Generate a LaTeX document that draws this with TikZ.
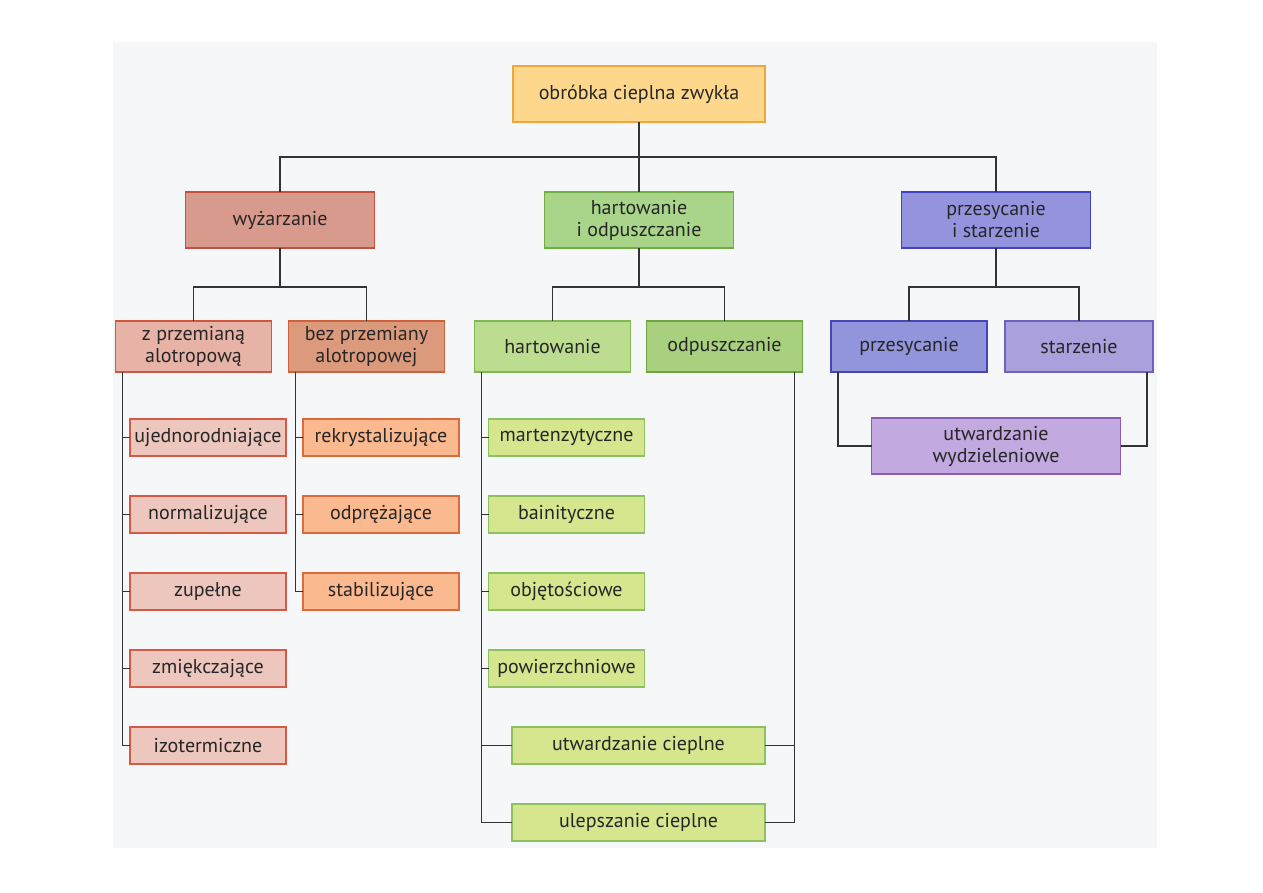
\documentclass[tikz,border=0pt]{standalone}
\usepackage{fontspec}
\setmainfont{PT Sans}
\usetikzlibrary{positioning}

\definecolor{strona}{HTML}{F5F7F9}
\definecolor{korzenT}{HTML}{FDD88C}\definecolor{korzenR}{HTML}{F2A53A}
\definecolor{wyzT}{HTML}{D99A8E}\definecolor{wyzR}{HTML}{C4503F}
\definecolor{zT}{HTML}{E8B3A7}\definecolor{zR}{HTML}{D0563F}
\definecolor{bezT}{HTML}{DC9A7C}\definecolor{bezR}{HTML}{D0603A}
\definecolor{lzT}{HTML}{EDC6BE}\definecolor{lzR}{HTML}{D45A45}
\definecolor{lbT}{HTML}{FBB98F}\definecolor{lbR}{HTML}{DE6A3C}
\definecolor{hoT}{HTML}{A8D58A}\definecolor{hoR}{HTML}{6FAE45}
\definecolor{hT}{HTML}{BCDD90}\definecolor{hR}{HTML}{7FB850}
\definecolor{oT}{HTML}{A9D07F}\definecolor{oR}{HTML}{6CA63E}
\definecolor{lhT}{HTML}{D5E68E}\definecolor{lhR}{HTML}{8CC060}
\definecolor{psT}{HTML}{9494DE}\definecolor{psR}{HTML}{3F43C4}
\definecolor{pT}{HTML}{9294DC}\definecolor{pR}{HTML}{4646B8}
\definecolor{sT}{HTML}{A9A0DC}\definecolor{sR}{HTML}{6A62C2}
\definecolor{uwT}{HTML}{C2A9E0}\definecolor{uwR}{HTML}{8A5CB8}

\begin{document}
\begin{tikzpicture}[
  x=1pt, y=-1pt,
  node distance=40pt and 16pt,
  blok/.style={draw, line width=1.8pt, align=center, inner sep=0pt, outer sep=0pt,
               font=\fontsize{20}{22}\selectfont, text=black!85},
  glowny/.style={blok, minimum width=252pt, minimum height=56pt},
  grupa/.style={blok, minimum width=189pt, minimum height=56pt},
  rodzaj/.style={blok, minimum width=156pt, minimum height=51pt},
  lisc/.style={blok, minimum width=156pt, minimum height=37pt},
  liscW/.style={blok, minimum width=253pt, minimum height=37pt},
  linia/.style={line width=1.9pt, draw=black!80}
]
\useasboundingbox (0,0) rectangle (1263,893);
\fill[strona] (113,42) rectangle (1157,848);

% poziom 0 i 1
\node[glowny, fill=korzenT, draw=korzenR] (obrobka) at (639,94) {obróbka cieplna zwykła};
\node[grupa, fill=hoT, draw=hoR, below=70pt of obrobka] (hartodp) {hartowanie\\i odpuszczanie};
\node[grupa, fill=wyzT, draw=wyzR, left=170pt of hartodp] (wyzarz) {wyżarzanie};
\node[grupa, fill=psT, draw=psR, right=168pt of hartodp] (przstar) {przesycanie\\i starzenie};

% poziom 2
\node[rodzaj, fill=zT, draw=zR, below=73pt of wyzarz, xshift=-86.5pt] (zprzem) {z przemianą\\alotropową};
\node[rodzaj, fill=bezT, draw=bezR, right=17pt of zprzem] (bezprzem) {bez przemiany\\alotropowej};
\node[rodzaj, fill=hT, draw=hR, below=73pt of hartodp, xshift=-86.5pt] (hart) {hartowanie};
\node[rodzaj, fill=oT, draw=oR, right=16pt of hart] (odpusz) {odpuszczanie};
\node[rodzaj, fill=pT, draw=pR, below=73pt of przstar, xshift=-87pt] (przesyc) {przesycanie};
\node[rodzaj, fill=sT, draw=sR, minimum width=148pt, right=18pt of przesyc] (starz) {starzenie};
\node[grupa, fill=uwT, draw=uwR, minimum width=249pt, below=170pt of przstar] (utwwydz) {utwardzanie\\wydzieleniowe};

% wyzarzanie
\node[lisc, fill=lzT, draw=lzR, below=47pt of zprzem, xshift=14.5pt] (ujedn) {ujednorodniające};
\node[lisc, fill=lzT, draw=lzR, below=of ujedn] (normal) {normalizujące};
\node[lisc, fill=lzT, draw=lzR, below=of normal] (zupel) {zupełne};
\node[lisc, fill=lzT, draw=lzR, below=of zupel] (zmiek) {zmiękczające};
\node[lisc, fill=lzT, draw=lzR, below=of zmiek] (izoterm) {izotermiczne};
\node[lisc, fill=lbT, draw=lbR, below=47pt of bezprzem, xshift=14.5pt] (rekryst) {rekrystalizujące};
\node[lisc, fill=lbT, draw=lbR, below=of rekryst] (odprez) {odprężające};
\node[lisc, fill=lbT, draw=lbR, below=of odprez] (stabil) {stabilizujące};

% hartowanie
\node[lisc, fill=lhT, draw=lhR, below=47pt of hart, xshift=14pt] (marten) {martenzytyczne};
\node[lisc, fill=lhT, draw=lhR, below=of marten] (bainit) {bainityczne};
\node[lisc, fill=lhT, draw=lhR, below=of bainit] (objet) {objętościowe};
\node[lisc, fill=lhT, draw=lhR, below=of objet] (powierz) {powierzchniowe};
\node[liscW, fill=lhT, draw=lhR, below=of powierz, xshift=72pt] (utwciep) {utwardzanie cieplne};
\node[liscW, fill=lhT, draw=lhR, below=of utwciep] (ulepsz) {ulepszanie cieplne};

% polaczenia
\draw[linia] (obrobka) -- (hartodp);
\draw[linia] (wyzarz.north) -- ++(0,-35) -| (przstar.north);
\draw[linia] (wyzarz.south) -- ++(0,39) coordinate (wyzRoz);
\draw[linia] (zprzem.north) |- (wyzRoz) -| (bezprzem.north);
\draw[linia] (hartodp.south) -- ++(0,39) coordinate (hoRoz);
\draw[linia] (hart.north) |- (hoRoz) -| (odpusz.north);
\draw[linia] (przstar.south) -- ++(0,39) coordinate (psRoz);
\draw[linia] (przesyc.north) |- (psRoz) -| (starz.north);

\foreach \n in {ujedn,normal,zupel,zmiek,izoterm}
  \draw[linia] ([xshift=7pt]zprzem.south west) |- (\n.west);
\foreach \n in {rekryst,odprez,stabil}
  \draw[linia] ([xshift=7pt]bezprzem.south west) |- (\n.west);
\foreach \n in {marten,bainit,objet,powierz,utwciep,ulepsz}
  \draw[linia] ([xshift=7pt]hart.south west) |- (\n.west);
\foreach \n in {utwciep,ulepsz}
  \draw[linia] ([xshift=-8pt]odpusz.south east) |- (\n.east);
\draw[linia] ([xshift=7pt]przesyc.south west) |- (utwwydz.west);
\draw[linia] ([xshift=-6pt]starz.south east) |- (utwwydz.east);
\end{tikzpicture}
\end{document}
